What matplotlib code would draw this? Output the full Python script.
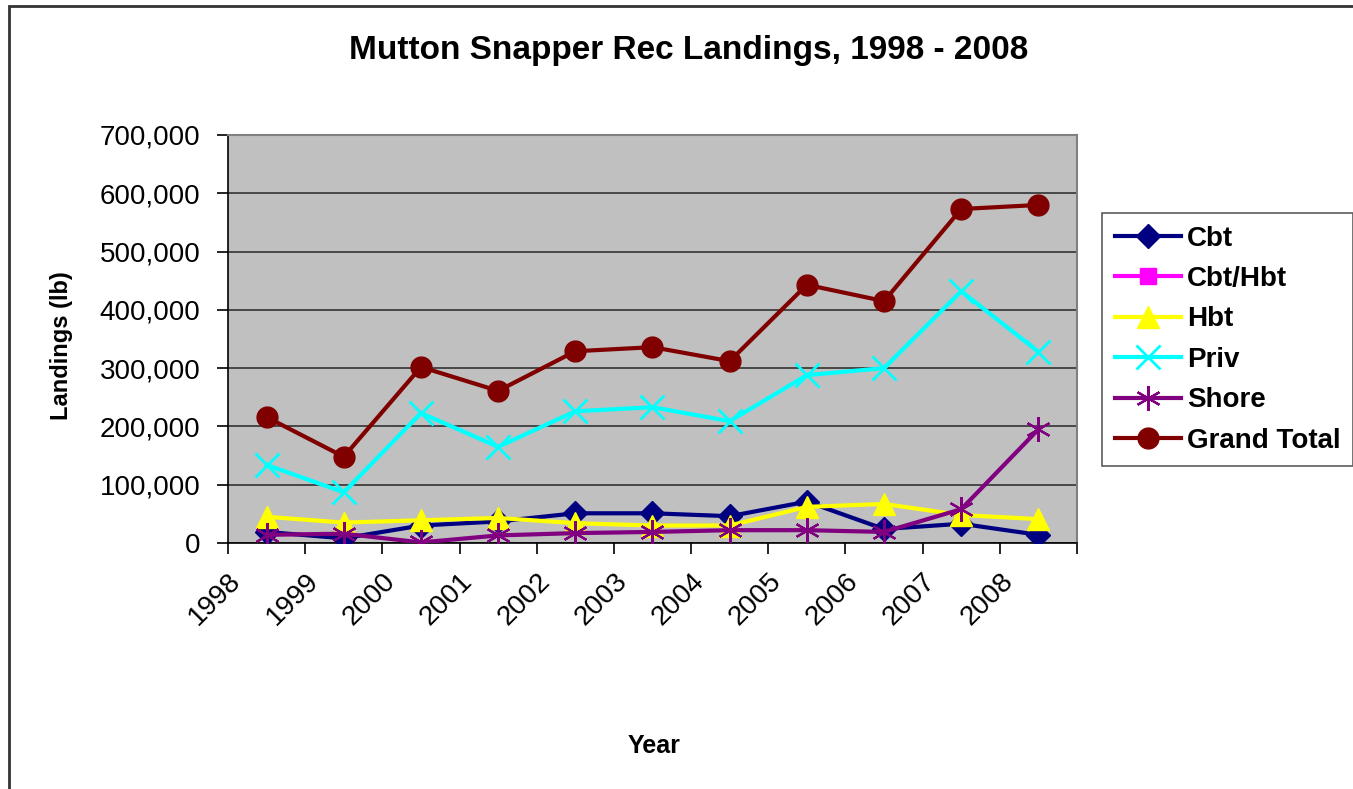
import numpy as np
import matplotlib
matplotlib.use('Agg')
from matplotlib import pyplot as plt
from matplotlib.ticker import FuncFormatter, FixedLocator
from matplotlib.patches import Rectangle

plt.rcParams['font.family'] = ['Liberation Sans', 'DejaVu Sans']

############### data ###################
years = ['1998', '1999', '2000', '2001', '2002', '2003', '2004', '2005', '2006', '2007', '2008']
cbt = [19000, 8000, 30000, 37000, 51000, 51000, 46000, 71000, 24000, 33000, 14000]
cbt_hbt = [np.nan] * 11
hbt = [45000, 35000, 39000, 43000, 34000, 30000, 30000, 62000, 67000, 48000, 41000]
priv = [134000, 87000, 223000, 165000, 226000, 233000, 209000, 288000, 300000, 432000, 328000]
shore = [14000, 16000, 1000, 13000, 17000, 19000, 22000, 22000, 19000, 58000, 195000]
grand_total = [216000, 148000, 302000, 261000, 329000, 336000, 312000, 443000, 415000, 573000, 580000]

############### figure ###################
fig = plt.figure(figsize=(13.53, 7.89), dpi=100)
fig.patches.append(Rectangle((9 / 1353, -0.1), 1.2, 1.1 - 6 / 789, transform=fig.transFigure,
                             fill=False, edgecolor='#333333', linewidth=2, zorder=0))
ax = fig.add_axes([228 / 1353, 1 - 543 / 789, 849 / 1353, 408 / 789])
ax.set_facecolor('#C0C0C0')

x = np.arange(len(years))
lw = 3
ax.plot(x, cbt, color='#000080', lw=lw, marker='D', ms=12, label='Cbt', zorder=3)
ax.plot(x, cbt_hbt, color='#FF00FF', lw=lw, marker='s', ms=11, label='Cbt/Hbt', zorder=3)
ax.plot(x, hbt, color='#FFFF00', lw=lw, marker='^', ms=16, label='Hbt', zorder=3)
ax.plot(x, priv, color='#00FFFF', lw=lw, marker='x', ms=17, mew=2, label='Priv', zorder=3)
ax.plot(x, shore, color='#800080', lw=lw, marker=(6, 2, 0), ms=18, mew=1.6, label='Shore', zorder=3)
ax.plot(x, grand_total, color='#800000', lw=lw, marker='o', ms=15, label='Grand Total', zorder=3)

ax.set_xlim(-0.5, len(years) - 0.5)
ax.set_ylim(0, 700000)
ax.yaxis.set_major_locator(FixedLocator(np.arange(0, 700001, 100000)))
ax.yaxis.set_major_formatter(FuncFormatter(lambda v, p: '{:,.0f}'.format(v)))
ax.yaxis.grid(True, color='#333333', lw=1.2)
ax.set_axisbelow(True)

ax.set_xticks(x - 0.5, minor=False)
ax.set_xticks([len(years) - 0.5], minor=True)
ax.set_xticklabels(years, rotation=45, ha='right', va='top', rotation_mode='anchor', fontsize=20)
for lab in ax.get_xticklabels():
    lab.set_transform(lab.get_transform() + matplotlib.transforms.ScaledTranslation(15 / 100, -5 / 100, fig.dpi_scale_trans))
ax.tick_params(axis='x', which='both', direction='out', length=8, width=1.2, pad=10)
ax.tick_params(axis='y', direction='out', length=8, width=1.2, labelsize=20, pad=12)

for side in ['top', 'right']:
    ax.spines[side].set_color('#808080')
    ax.spines[side].set_linewidth(1.5)
for side in ['left', 'bottom']:
    ax.spines[side].set_color('#000000')
    ax.spines[side].set_linewidth(1.2)

ax.set_ylabel('Landings (lb)', fontsize=17, fontweight='bold')
ax.yaxis.set_label_coords((73 - 228) / 849, (543 - 346) / 408)
fig.text(654 / 1353, 1 - 746 / 789, 'Year', fontsize=18, fontweight='bold', ha='center', va='center')
fig.text(689 / 1353, 1 - 50 / 789, 'Mutton Snapper Rec Landings, 1998 - 2008', fontsize=24,
         fontweight='bold', ha='center', va='center')

leg = fig.legend(loc='upper left', bbox_to_anchor=(1102 / 1353, 1 - 213 / 789), frameon=True,
                 fancybox=False, edgecolor='#333333', prop={'size': 20, 'weight': 'bold'},
                 handlelength=2.4, labelspacing=0.52, borderpad=0.45, handletextpad=0.2,
                 borderaxespad=0)
leg.get_frame().set_linewidth(1.2)

fig.savefig('out.png', dpi=100)
